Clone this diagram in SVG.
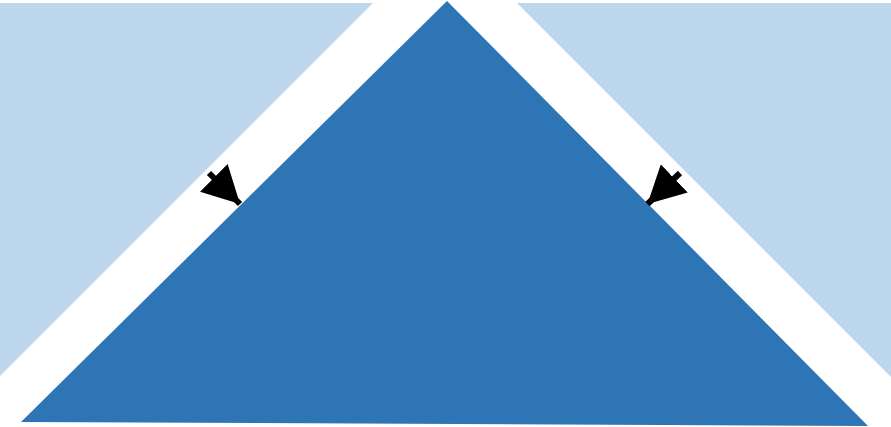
<svg xmlns="http://www.w3.org/2000/svg" width="891" height="427" viewBox="0 0 891 427">
  <style>
    .light { fill: #BDD7EE; }
    .dark { fill: #2E75B6; }
    .conn { stroke: #000; stroke-width: 6; fill: none; }
  </style>
  <defs>
    <marker id="arrow" viewBox="0 0 37 39" refX="37" refY="19.5" markerWidth="37" markerHeight="39" markerUnits="userSpaceOnUse" orient="auto">
      <path d="M0,0 L37,19.5 L0,39 Z" fill="#000"/>
    </marker>
  </defs>
  <rect width="891" height="427" fill="#fff"/>
  <g id="left-region">
    <polygon class="light" points="0,3 373,3 0,376"/>
  </g>
  <g id="right-region">
    <polygon class="light" points="517,3 891,3 891,377"/>
  </g>
  <g id="center-triangle">
    <polygon class="dark" points="447,1 868,426 21,422"/>
  </g>
  <g id="connectors">
    <line class="conn" x1="209" y1="173" x2="240" y2="204" marker-end="url(#arrow)"/>
    <line class="conn" x1="680" y1="173" x2="647.5" y2="204" marker-end="url(#arrow)"/>
  </g>
</svg>
